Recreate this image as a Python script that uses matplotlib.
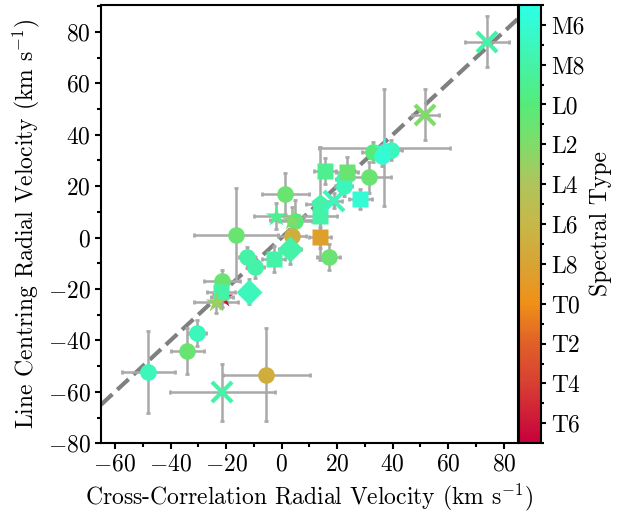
import numpy as np
import matplotlib
matplotlib.use("Agg")
from matplotlib import pyplot as plt
from matplotlib.colors import LinearSegmentedColormap, Normalize
from matplotlib.ticker import MultipleLocator

plt.rcParams['font.family'] = 'serif'
plt.rcParams['font.serif'] = ['cmr10']
plt.rcParams['mathtext.fontset'] = 'cm'
plt.rcParams['axes.formatter.use_mathtext'] = True
plt.rcParams['font.size'] = 17

# spectral type codes: M0 = 0, L0 = 10, T0 = 20
circ_x = [-48, -34, -30.3, -5.5, -21.5, -12.5, -9.5, -16.4, 1.3, 4.9, 3.7, 16.9, 31.4, 22.3, 22.5, 33, 39.5, 36.2]
circ_y = [-52.4, -44, -37.1, -53.3, -16.8, -7.7, -11.6, 1.1, 17, 6.6, 0.7, -7.7, 23.5, 20.2, 22.8, 33.2, 34, 31.9]
circ_xe = [9.6, 6, 3, 15.6, 6.6, 3, 3, 15, 8.5, 6, 5, 4, 8, 3, 3, 4, 4, 4]
circ_ye = [16, 9, 5, 18, 4, 4, 4, 18, 8, 8, 5, 5, 6, 4, 4, 4, 4, 4]
circ_spt = [7, 11, 7, 17, 11, 8, 8, 11, 11, 10, 17, 11, 11, 7, 7, 10, 7, 6]

sq_x = [15.7, 23.6, 28.4, 13.9, 13.9, -2.9, -21.8]
sq_y = [25.8, 25.4, 15, 8.5, 0.1, -8.3, -21.3]
sq_xe = [4, 4, 4, 6, 4, 4, 5]
sq_ye = [5, 6, 4, 6, 4, 5, 6]
sq_spt = [9, 11, 6, 8, 18.5, 8, 8]

dia_x = [3.1, -11.6]
dia_y = [-4.4, -21]
dia_xe = [4, 3]
dia_ye = [6, 5]
dia_spt = [8, 7]

star_x = [-21.5, 37, -1.9, 3.7, -23.6]
star_y = [-23.2, 35, 8.3, 6.9, -25.2]
star_xe = [4, 23.5, 8, 8, 8]
star_ye = [4, 22.7, 5, 5, 4]
star_spt = [26, 6, 9, 12, 13]

pent_x = [13.7]
pent_y = [13.1]
pent_xe = [5]
pent_ye = [22]
pent_spt = [8]

cross_x = [74, 51.8, -21.3, 18.7]
cross_y = [76.2, 47.8, -60.2, 14.4]
cross_xe = [8, 5, 19, 3]
cross_ye = [10, 10, 11, 3]
cross_spt = [8, 12, 8, 7]

cbar_ticks = [6, 8, 10, 12, 14, 16, 18, 20, 22, 24, 26]
cbar_labels = ['M6', 'M8', 'L0', 'L2', 'L4', 'L6', 'L8', 'T0', 'T2', 'T4', 'T6']

cmap = LinearSegmentedColormap.from_list('spt', [
    (0.0, '#2cffe8'), (5 / 22, '#55eb7a'), (7 / 22, '#80dc6a'),
    (9 / 22, '#b0c45c'), (11 / 22, '#c6b848'), (13 / 22, '#d8a434'),
    (15 / 22, '#f09018'), (17 / 22, '#e06028'), (19 / 22, '#d84032'),
    (1.0, '#c8003c')])
norm = Normalize(vmin=5, vmax=27)

fig = plt.figure(figsize=(6.2, 5.14), dpi=100)
ax = fig.add_axes([0.163, 0.1376, 0.672, 0.853])
cax = fig.add_axes([0.837, 0.1376, 0.036, 0.853])

ax.plot([-65, 85], [-65, 85], '--', color='grey', lw=3, zorder=1)

groups = [
    (star_x[:1], star_y[:1], star_xe[:1], star_ye[:1], star_spt[:1], '*', 16),
    (circ_x, circ_y, circ_xe, circ_ye, circ_spt, 'o', 12),
    (sq_x, sq_y, sq_xe, sq_ye, sq_spt, 's', 12),
    (dia_x, dia_y, dia_xe, dia_ye, dia_spt, 'D', 13),
    (star_x[1:], star_y[1:], star_xe[1:], star_ye[1:], star_spt[1:], '*', 16),
    (pent_x, pent_y, pent_xe, pent_ye, pent_spt, 'p', 14),
    (cross_x, cross_y, cross_xe, cross_ye, cross_spt, 'x', 14),
]
for gx, gy, gxe, gye, gs, mk, ms in groups:
    ax.errorbar(gx, gy, xerr=gxe, yerr=gye, fmt='none', ecolor='darkgrey',
                elinewidth=1.8, capsize=1.5, capthick=2, zorder=2)
    for xi, yi, si in zip(gx, gy, gs):
        c = cmap(norm(si))
        if mk == 'x':
            ax.plot(xi, yi, marker='x', ms=ms, mew=3, color=c, ls='none', zorder=3)
        else:
            ax.plot(xi, yi, marker=mk, ms=ms, mec='none', color=c, ls='none', zorder=3)

ax.set_xlim(-65, 85)
ax.set_ylim(-80, 90.5)
ax.xaxis.set_major_locator(MultipleLocator(20))
ax.xaxis.set_minor_locator(MultipleLocator(10))
ax.yaxis.set_major_locator(MultipleLocator(20))
ax.yaxis.set_minor_locator(MultipleLocator(10))
ax.tick_params(which='both', direction='out', width=1.5)
ax.tick_params(which='major', length=4)
ax.tick_params(which='minor', length=3)
for sp in ax.spines.values():
    sp.set_linewidth(1.5)
ax.set_xlabel('Cross-Correlation Radial Velocity (km s$^{-1}$)')
ax.set_ylabel('Line Centring Radial Velocity (km s$^{-1}$)')

sm = plt.cm.ScalarMappable(norm=norm, cmap=cmap)
cb = fig.colorbar(sm, cax=cax)
cb.set_ticks(cbar_ticks)
cb.set_ticklabels(cbar_labels)
cb.ax.yaxis.set_minor_locator(MultipleLocator(1))
cb.ax.invert_yaxis()
cb.ax.tick_params(which='both', direction='out', width=1.5)
cb.outline.set_linewidth(1.5)
cb.set_label('Spectral Type')

fig.savefig('out.png', dpi=100)
